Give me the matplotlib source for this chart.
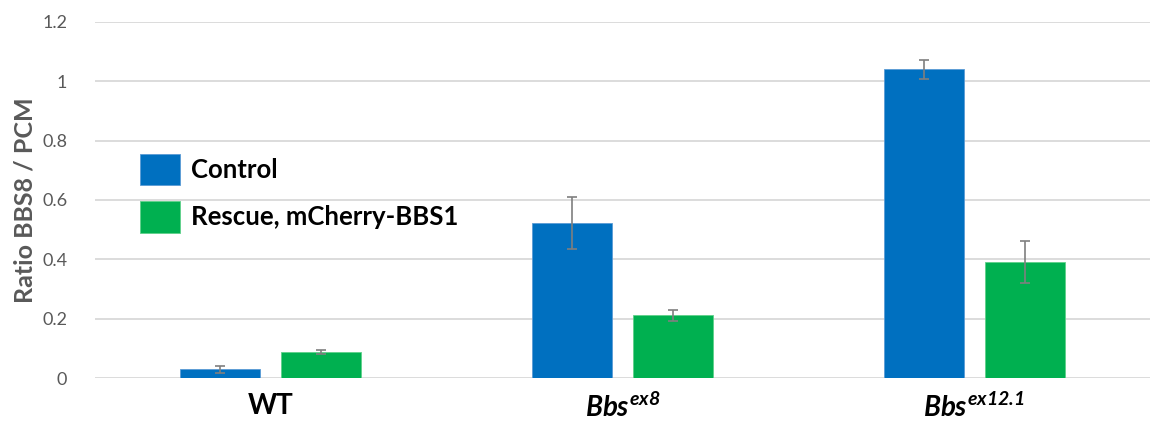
import matplotlib
matplotlib.use("Agg")
import matplotlib.pyplot as plt
import numpy as np

categories = ["WT", r"$Bbs^{ex8}$", r"$Bbs^{ex12.1}$"]
series_names = ["Control", "Rescue, mCherry-BBS1"]
control_vals = [0.030, 0.523, 1.040]
control_err = [0.012, 0.088, 0.032]
rescue_vals = [0.087, 0.211, 0.392]
rescue_err = [0.006, 0.019, 0.071]
yticks = [0, 0.2, 0.4, 0.6, 0.8, 1.0, 1.2]
ytick_labels = ["0", "0.2", "0.4", "0.6", "0.8", "1", "1.2"]

plt.rcParams['font.family'] = ['Lato', 'DejaVu Sans']
plt.rcParams['mathtext.fontset'] = 'custom'
plt.rcParams['mathtext.it'] = 'Lato:italic:bold'
plt.rcParams['mathtext.rm'] = 'Lato:italic:bold'
plt.rcParams['mathtext.bf'] = 'Lato:italic:bold'

W, H = 1150, 423
fig = plt.figure(figsize=(W/100, H/100), dpi=100)
ax = fig.add_axes([95/W, 1-378/H, (1150-95)/W, (378-22)/H])

x = np.arange(len(categories))
bw = 0.227
off = 0.1435
blue = "#0070C0"
green = "#00B050"
ecol = "#7F7F7F"

ax.bar(x - off, control_vals, bw, color=blue, edgecolor="#5B9BD5", linewidth=0.6, label=series_names[0], zorder=3)
ax.bar(x + off, rescue_vals, bw, color=green, edgecolor="#5FD08A", linewidth=0.6, label=series_names[1], zorder=3)
ax.errorbar(x - off, control_vals, yerr=control_err, fmt='none', ecolor=ecol, elinewidth=1.2, capsize=3.8, capthick=1.2, zorder=4)
ax.errorbar(x + off, rescue_vals, yerr=rescue_err, fmt='none', ecolor=ecol, elinewidth=1.2, capsize=3.8, capthick=1.2, zorder=4)

ax.set_xlim(-0.5, 2.5)
ax.set_ylim(0, 1.2)
ax.set_yticks(yticks)
ax.set_yticklabels(ytick_labels, fontsize=13, color="#595959")
ax.set_xticks(x)
ax.set_xticklabels(categories, fontsize=20, fontweight='bold', color='black')
ax.tick_params(axis='y', length=0, pad=20)
ax.tick_params(axis='x', length=0, pad=11)
for s in ax.spines.values():
    s.set_visible(False)
ax.yaxis.grid(True, color="#D9D9D9", linewidth=1.3, zorder=0)
ax.set_axisbelow(True)
ax.set_ylabel("Ratio BBS8 / PCM", fontsize=18, fontweight='bold', color="#595959", labelpad=4)

leg = fig.legend(loc='upper left', bbox_to_anchor=(140/W, 1-154/H), frameon=False,
                 handlelength=1.55, handleheight=1.5, handletextpad=0.45,
                 labelspacing=0.62, borderpad=0, borderaxespad=0,
                 prop={'weight': 'bold', 'size': 18.5})

fig.savefig("out.png", dpi=100)
